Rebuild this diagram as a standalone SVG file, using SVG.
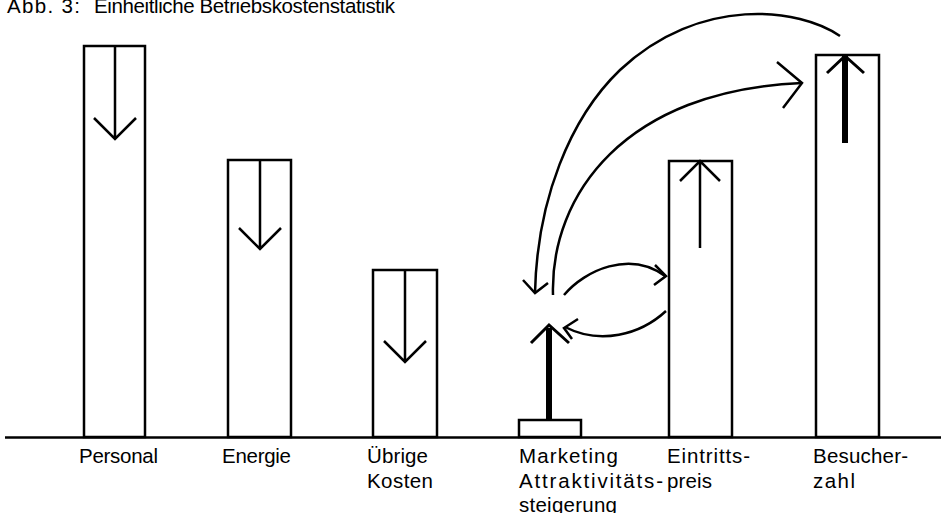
<svg xmlns="http://www.w3.org/2000/svg" width="941" height="513" viewBox="0 0 941 513">
<style>
.bar{fill:#fff;stroke:#000;stroke-width:2.5}
.ln{fill:none;stroke:#000;stroke-width:2.5;stroke-linecap:butt;stroke-linejoin:miter}
.thick{fill:none;stroke:#000;stroke-width:6}
.hd{fill:none;stroke:#000;stroke-width:3}
text{font-family:"Liberation Sans",Arial,sans-serif;font-size:20.5px;fill:#000}
</style>
<rect width="941" height="513" fill="#fff"/>
<text x="7" y="13" font-size="20"><tspan x="7" textLength="73">Abb. 3:</tspan><tspan x="94" textLength="301">Einheitliche Betriebskostenstatistik</tspan></text>
<line x1="5" y1="437.5" x2="941" y2="437.5" stroke="#000" stroke-width="2.5"/>
<g id="personal">
<rect class="bar" x="84" y="46" width="61" height="391"/>
<path class="ln" d="M115 46V139M94 118L115 139L136 118"/>
<text x="79" y="463" textLength="79">Personal</text>
</g>
<g id="energie">
<rect class="bar" x="228" y="160" width="63" height="277"/>
<path class="ln" d="M260 160V249M239 228L260 249L281 228"/>
<text x="222" y="463" textLength="69">Energie</text>
</g>
<g id="uebrige">
<rect class="bar" x="373" y="270" width="64" height="167"/>
<path class="ln" d="M405 270V362M384 341L405 362L426 341"/>
<text x="367" y="463" textLength="61">Übrige</text>
<text x="367" y="488" textLength="66">Kosten</text>
</g>
<g id="marketing">
<rect class="bar" x="519" y="420" width="62" height="17"/>
<path class="thick" d="M549 420V328"/>
<path class="hd" d="M531 343L549 325L569 343"/>
<text x="519" y="463" textLength="99">Marketing</text>
<text x="519" y="488" textLength="144">Attraktivitäts-</text>
<text x="519" y="512" textLength="98">steigerung</text>
</g>
<g id="eintritt">
<rect class="bar" x="669" y="161" width="63" height="276"/>
<path class="ln" d="M700 161V248M680 181L700 161L720 181"/>
<text x="667" y="463" textLength="83">Eintritts-</text>
<text x="667" y="488" textLength="45">preis</text>
</g>
<g id="besucher">
<rect class="bar" x="816" y="55" width="63" height="382"/>
<path class="thick" d="M845 56V143"/>
<path class="hd" d="M827 73L845 56L864 73"/>
<text x="813" y="463" textLength="95">Besucher-</text>
<text x="813" y="488" textLength="42">zahl</text>
</g>
<g id="connectors">
<path class="ln" d="M840 36C800 8 700 -5 620 70C570 118 537 200 535 293"/>
<path class="ln" d="M523 280L535 293L548 283"/>
<path class="ln" d="M553 295C550 195 625 90 802 83"/>
<path class="ln" d="M777 62L802 83L783 108"/>
<path class="ln" d="M564 295C585 270 630 250 665 276"/>
<path class="ln" d="M655 265L666 276L654 285"/>
<path class="ln" d="M666 311C640 335 600 345 565 327"/>
<path class="ln" d="M578 319L564 328L572 339"/>
</g>
</svg>
